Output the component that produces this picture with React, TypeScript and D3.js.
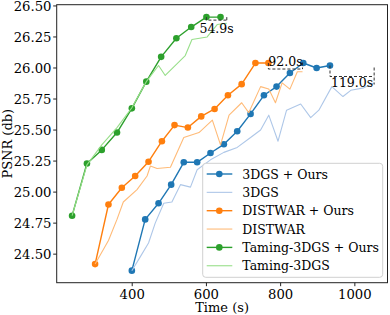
import * as d3 from 'd3';

const W = 390;
const H = 315;
const MARGIN = { top: 4.7, right: 2.5, bottom: 32.3, left: 56.7 };

// 3DGS
const gsOursT = [399, 435, 471, 505, 539, 575, 611, 647, 683, 719, 755, 789, 825, 861, 897, 933];
const gsOursP = [24.367, 24.78, 24.91, 25.06, 25.24, 25.24, 25.315, 25.385, 25.49, 25.63, 25.78, 25.85, 25.96, 26.04, 26.0, 26.02];
const gsBaseT = [399, 422, 444, 462, 485, 507, 530, 557, 575, 611, 647, 683, 719, 746, 768, 793, 816, 854, 881, 903, 938, 968, 989, 1024, 1051];
const gsBaseP = [24.367, 24.48, 24.59, 24.75, 24.91, 24.92, 25.06, 25.04, 25.18, 25.26, 25.32, 25.36, 25.44, 25.5, 25.62, 25.41, 25.66, 25.71, 25.6, 25.66, 25.85, 25.77, 25.82, 25.84, 25.88];

// DISTWAR
const dwOursT = [300, 336, 372, 408, 444, 480, 514, 550, 586, 622, 658, 695, 732, 767];
const dwOursP = [24.42, 24.9, 25.035, 25.13, 25.245, 25.41, 25.54, 25.52, 25.61, 25.67, 25.78, 25.87, 26.04, 26.04];
const dwBaseT = [300, 336, 359, 376, 413, 440, 449, 467, 503, 539, 580, 616, 638, 661, 695, 714, 746, 768, 786, 804, 825, 845, 859];
const dwBaseP = [24.42, 24.61, 24.78, 24.92, 25.02, 25.13, 25.21, 25.19, 25.2, 25.44, 25.48, 25.58, 25.38, 25.62, 25.72, 25.64, 25.85, 25.83, 25.72, 25.88, 25.83, 25.97, 25.97];

// Taming-3DGS
const tmOursT = [238, 278, 318, 359, 399, 438, 478, 519, 559, 600, 638];
const tmOursP = [24.81, 25.23, 25.34, 25.48, 25.675, 25.89, 26.09, 26.24, 26.33, 26.41, 26.41];
const tmBaseT = [238, 278, 318, 359, 399, 438, 471, 489, 543, 561, 602, 629, 655];
const tmBaseP = [24.81, 25.22, 25.38, 25.52, 25.68, 25.89, 26.02, 25.94, 26.1, 26.23, 26.25, 26.35, 26.36];

const xTicks = [400, 600, 800, 1000];
const yTicks = [24.5, 24.75, 25.0, 25.25, 25.5, 25.75, 26.0, 26.25, 26.5];

// time-saving annotations
const annStart = [600, 767, 933];
const annDelta = [54.9, 92.0, 119.0];
const annPsnr = [26.41, 26.04, 26.02];
const annLabels = ['54.9s', '92.0s', '119.0s'];

const series = [
  { name: '3DGS + Ours', t: gsOursT, p: gsOursP, color: '#1f77b4', marker: true },
  { name: '3DGS', t: gsBaseT, p: gsBaseP, color: '#aec7e8', marker: false },
  { name: 'DISTWAR + Ours', t: dwOursT, p: dwOursP, color: '#ff7f0e', marker: true },
  { name: 'DISTWAR', t: dwBaseT, p: dwBaseP, color: '#ffbb78', marker: false },
  { name: 'Taming-3DGS + Ours', t: tmOursT, p: tmOursP, color: '#2ca02c', marker: true },
  { name: 'Taming-3DGS', t: tmBaseT, p: tmBaseP, color: '#98df8a', marker: false },
];

// pixel layout of each bracket relative to its marker: [line dy, right top dy, right bottom dy, text dy]
const ANN_STYLE = [
  [3, 0, 3, 16.3],
  [6, -0.5, 6, 2.5],
  [11, 2, 19, 21.6],
];

const FONT = '"DejaVu Serif", serif';

export default function App() {
  const x = d3.scaleLinear().domain([196.5, 1088]).range([MARGIN.left, W - MARGIN.right]);
  const y = d3.scaleLinear().domain([24.27, 26.51]).range([H - MARGIN.bottom, MARGIN.top]);
  const line = d3.line<[number, number]>().x((d) => x(d[0])).y((d) => y(d[1]));

  const x0 = MARGIN.left;
  const x1 = W - MARGIN.right;
  const y0 = MARGIN.top;
  const y1 = H - MARGIN.bottom;

  const legX = 202.7;
  const legY = 163.3;
  const rowH = 18.35;

  return (
    <svg width={W} height={H} style={{ position: 'absolute', left: 0, top: 0, background: '#fff' }} fontFamily={FONT}>
      {/* series */}
      {series.map((s) => {
        const pts = s.t.map((t, i) => [t, s.p[i]] as [number, number]);
        return (
          <g key={s.name}>
            <path d={line(pts) ?? ''} fill="none" stroke={s.color} strokeWidth={s.marker ? 1.4 : 1.1} strokeLinejoin="round" />
            {s.marker && pts.map((d, i) => <circle key={i} cx={x(d[0])} cy={y(d[1])} r={3.3} fill={s.color} />)}
          </g>
        );
      })}

      {/* annotations */}
      {annStart.map((t, i) => {
        const xa = x(t);
        const xb = x(t + annDelta[i]);
        const ym = y(annPsnr[i]);
        const [ld, rt, rb, td] = ANN_STYLE[i];
        const d = `M${xa},${ym} V${ym + ld} H${xb} M${xb},${ym + rt} V${ym + rb}`;
        return (
          <g key={i}>
            <path d={d} fill="none" stroke="#333" strokeWidth={1} strokeDasharray="3,2" />
            <text x={(xa + xb) / 2} y={ym + td} textAnchor="middle" fontSize={12.5} fill="#000">
              {annLabels[i]}
            </text>
          </g>
        );
      })}

      {/* frame */}
      <rect x={x0} y={y0} width={x1 - x0} height={y1 - y0} fill="none" stroke="#222" strokeWidth={1} />

      {/* x axis */}
      {xTicks.map((t) => (
        <g key={t}>
          <line x1={x(t)} x2={x(t)} y1={y1} y2={y1 + 3.5} stroke="#222" />
          <text x={x(t)} y={298.8} textAnchor="middle" fontSize={13.2} fill="#000">
            {t}
          </text>
        </g>
      ))}
      <text x={(x0 + x1) / 2} y={311.5} textAnchor="middle" fontSize={13} fill="#000">
        Time (s)
      </text>

      {/* y axis */}
      {yTicks.map((t) => (
        <g key={t}>
          <line x1={x0 - 3.5} x2={x0} y1={y(t)} y2={y(t)} stroke="#222" />
          <text x={51.5} y={y(t)} dy="0.36em" textAnchor="end" fontSize={13.2} fill="#000">
            {t.toFixed(2)}
          </text>
        </g>
      ))}
      <text transform={`translate(11.5,${(y0 + y1) / 2}) rotate(-90)`} textAnchor="middle" fontSize={13} fill="#000">
        PSNR (db)
      </text>

      {/* legend */}
      <rect x={legX} y={legY} width={180} height={114} rx={3} fill="#fff" fillOpacity={0.8} stroke="#d0d0d0" strokeWidth={1} />
      {series.map((s, i) => {
        const cy = legY + 10.7 + i * rowH;
        return (
          <g key={s.name}>
            <line x1={legX + 4} x2={legX + 29.6} y1={cy} y2={cy} stroke={s.color} strokeWidth={s.marker ? 1.4 : 1.1} />
            {s.marker && <circle cx={legX + 16.6} cy={cy} r={3.3} fill={s.color} />}
            <text x={legX + 39.6} y={cy} dy="0.36em" fontSize={12.5} fill="#000">
              {s.name}
            </text>
          </g>
        );
      })}
    </svg>
  );
}
